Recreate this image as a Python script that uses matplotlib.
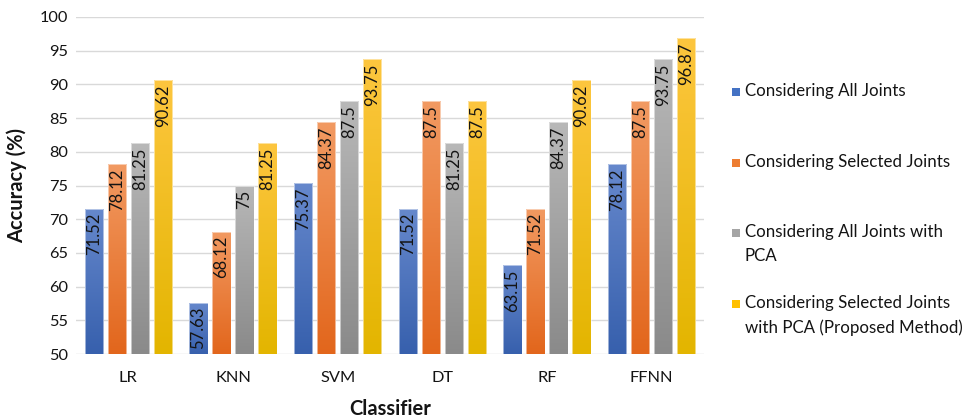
import numpy as np
import matplotlib

matplotlib.use("Agg")
import matplotlib.pyplot as plt
from matplotlib.colors import LinearSegmentedColormap
from matplotlib.patches import Rectangle

plt.rcParams["font.family"] = ["Lato", "DejaVu Sans"]

classifiers = ["LR", "KNN", "SVM", "DT", "RF", "FFNN"]
series_names = [
    "Considering All Joints",
    "Considering Selected Joints",
    "Considering All Joints with\nPCA",
    "Considering Selected Joints\nwith PCA (Proposed Method)",
]
all_joints = [71.52, 57.63, 75.37, 71.52, 63.15, 78.12]
selected_joints = [78.12, 68.12, 84.37, 87.5, 71.52, 87.5]
all_joints_pca = [81.25, 75, 87.5, 81.25, 84.37, 93.75]
selected_joints_pca = [90.62, 81.25, 93.75, 87.5, 90.62, 96.87]
series = [all_joints, selected_joints, all_joints_pca, selected_joints_pca]

# (top colour, bottom colour) for each series' vertical gradient
gradients = [
    ("#6688cc", "#3760ad"),
    ("#f29a62", "#e2661c"),
    ("#b8b8b8", "#8a8a8a"),
    ("#fdc63f", "#e3b500"),
]
legend_colors = ["#4472c4", "#ed7d31", "#a5a5a5", "#ffc000"]
text_color = "#141414"

fig = plt.figure(figsize=(9.66, 4.18), dpi=100)
ax = fig.add_axes([76 / 966, 64 / 418, 628 / 966, 337 / 418])

x = np.arange(len(classifiers))
width = 0.177
step = 0.22
ymin, ymax = 50, 100

for i, vals in enumerate(series):
    offs = (i - 1.5) * step
    bars = ax.bar(x + offs, np.array(vals) - ymin, width, bottom=ymin,
                  color="none", edgecolor="none", zorder=2)
    cmap = LinearSegmentedColormap.from_list(f"g{i}", [gradients[i][1], gradients[i][0]])
    grad = np.linspace(0, 1, 256).reshape(-1, 1)
    for b, v in zip(bars, vals):
        x0, w = b.get_x(), b.get_width()
        # each bar gets its own light-top / dark-bottom fill
        im = ax.imshow(grad, cmap=cmap, origin="lower", aspect="auto",
                       extent=(x0, x0 + w, ymin, v), zorder=2)
        im.set_clip_path(b)
        ax.add_patch(Rectangle((x0, ymin), w, v - ymin, fill=False,
                               edgecolor="white", linewidth=0.6, alpha=0.6, zorder=3))
        ax.annotate(f"{v:g}", (x0 + w / 2, v), xytext=(0, -3), textcoords="offset points",
                    rotation=90, ha="center", va="top", fontsize=12,
                    color=text_color, zorder=4)

ax.set_xlim(-0.5, len(classifiers) - 0.5)
ax.set_ylim(ymin, ymax)
ax.set_yticks(np.arange(50, 101, 5))
ax.set_xticks(x)
ax.set_xticklabels(classifiers)
ax.yaxis.grid(True, color="#d9d9d9", linewidth=1, zorder=0)
ax.set_axisbelow(True)
for s in ax.spines.values():
    s.set_visible(False)
ax.tick_params(axis="both", length=0, labelsize=11.8, colors=text_color)
ax.tick_params(axis="x", pad=12)
ax.tick_params(axis="y", pad=6)
ax.set_ylabel("Accuracy (%)", fontsize=14.5, fontweight="bold", color=text_color, labelpad=9)
ax.set_xlabel("Classifier", fontsize=14.5, fontweight="bold", color=text_color, labelpad=10)

# legend drawn by hand so multi-line labels keep the marker on the first line
legend_y = [92, 163, 233, 304]
for name, color, yy in zip(series_names, legend_colors, legend_y):
    fig.patches.append(Rectangle((732 / 966, 1 - (yy + 4) / 418), 8 / 966, 8 / 418,
                                 transform=fig.transFigure, facecolor=color,
                                 edgecolor="none"))
    fig.text(745 / 966, 1 - (yy - 9) / 418, name, fontsize=12.2, color=text_color,
             ha="left", va="top", linespacing=1.6, transform=fig.transFigure)

fig.savefig("out.png", dpi=100)
